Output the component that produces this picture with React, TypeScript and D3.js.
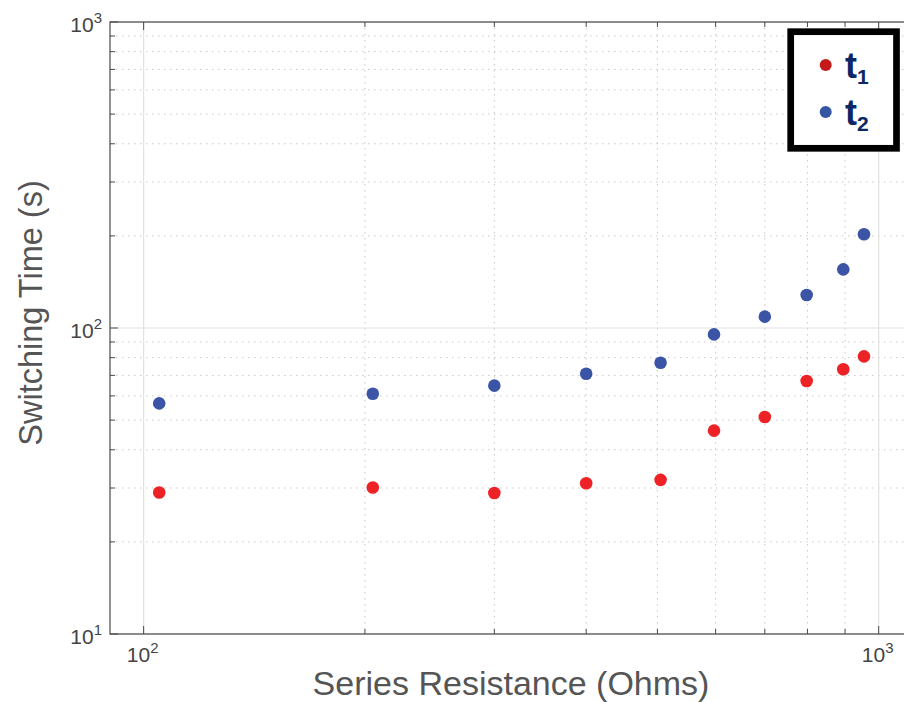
import React, { useEffect, useRef } from 'react';
import * as d3 from 'd3';

// series resistance (ohms) and switching times (s)
const resistance = [105, 205, 300, 400, 505, 597, 700, 798, 895, 955];
const t1Values = [29.0, 30.1, 28.9, 31.1, 31.9, 46.2, 51.2, 67.1, 73.3, 80.8];
const t2Values = [56.7, 61.0, 64.8, 70.9, 77.0, 95.3, 108.9, 128.2, 155.5, 202.5];

const xMajor = [100, 1000];
const yMajor = [10, 100, 1000];
const seriesNames = ['1', '2'];

const W = 904;
const H = 702;
const margin = { left: 110, right: 912, top: 22, bottom: 634 };

const font = '"Liberation Sans", Arial, Helvetica, sans-serif';

function minorTicks(lo: number, hi: number) {
    let out: number[] = [];
    for (let d = lo; d < hi; d *= 10) {
        for (let k = 2; k <= 9; k++) out.push(d * k);
    }
    return out;
}

export default function App() {
    const svgRef = useRef<SVGSVGElement>(null);

    useEffect(() => {
        const svg = d3.select(svgRef.current);
        svg.selectAll('*').remove();

        const x = d3.scaleLog().domain([90, 1110]).range([margin.left, margin.right]);
        const y = d3.scaleLog().domain([10, 1000]).range([margin.bottom, margin.top]);

        const xMinor = minorTicks(100, 1000);
        const yMinor = minorTicks(10, 1000);

        const g = svg.append('g');

        // background
        g.append('rect')
            .attr('x', margin.left).attr('y', margin.top)
            .attr('width', margin.right - margin.left)
            .attr('height', margin.bottom - margin.top)
            .attr('fill', '#fff');

        // minor grid (dotted)
        g.selectAll('.xminor').data(xMinor).enter().append('line')
            .attr('x1', d => x(d)).attr('x2', d => x(d))
            .attr('y1', margin.top).attr('y2', margin.bottom)
            .attr('stroke', '#c8c8c8').attr('stroke-width', 1)
            .attr('stroke-dasharray', '1.5,4.5');
        g.selectAll('.yminor').data(yMinor).enter().append('line')
            .attr('y1', d => y(d)).attr('y2', d => y(d))
            .attr('x1', margin.left).attr('x2', margin.right)
            .attr('stroke', '#c8c8c8').attr('stroke-width', 1)
            .attr('stroke-dasharray', '1.5,4.5');

        // major grid (solid, light)
        g.selectAll('.xmajor').data(xMajor).enter().append('line')
            .attr('x1', d => x(d)).attr('x2', d => x(d))
            .attr('y1', margin.top).attr('y2', margin.bottom)
            .attr('stroke', '#e2e2e2').attr('stroke-width', 1.2);
        g.selectAll('.ymajor').data(yMajor).enter().append('line')
            .attr('y1', d => y(d)).attr('y2', d => y(d))
            .attr('x1', margin.left).attr('x2', margin.right)
            .attr('stroke', '#e2e2e2').attr('stroke-width', 1.2);

        // ticks on all four sides, pointing inward
        const axisColor = '#4a4a4a';
        const addXTicks = (vals: number[], len: number) => {
            [margin.bottom, margin.top].forEach((yy, i) => {
                g.selectAll(null).data(vals).enter().append('line')
                    .attr('x1', d => x(d)).attr('x2', d => x(d))
                    .attr('y1', yy).attr('y2', i === 0 ? yy - len : yy + len)
                    .attr('stroke', axisColor).attr('stroke-width', 1);
            });
        };
        const addYTicks = (vals: number[], len: number) => {
            [margin.left, margin.right].forEach((xx, i) => {
                g.selectAll(null).data(vals).enter().append('line')
                    .attr('y1', d => y(d)).attr('y2', d => y(d))
                    .attr('x1', xx).attr('x2', i === 0 ? xx + len : xx - len)
                    .attr('stroke', axisColor).attr('stroke-width', 1);
            });
        };
        addXTicks(xMinor, 5);
        addXTicks(xMajor, 8);
        addYTicks(yMinor, 5);
        addYTicks(yMajor, 8);

        // box
        g.append('rect')
            .attr('x', margin.left).attr('y', margin.top)
            .attr('width', margin.right - margin.left)
            .attr('height', margin.bottom - margin.top)
            .attr('fill', 'none').attr('stroke', axisColor).attr('stroke-width', 1.2);

        // tick labels
        const tickColor = '#444';
        xMajor.forEach(v => {
            const t = g.append('text')
                .attr('x', x(v) - 1).attr('y', 662)
                .attr('text-anchor', 'middle')
                .attr('font-family', font).attr('font-size', 21)
                .attr('fill', tickColor)
                .text('10');
            t.append('tspan').attr('dy', -9).attr('font-size', 15).text(String(Math.round(Math.log10(v))));
        });
        yMajor.forEach(v => {
            const t = g.append('text')
                .attr('x', 102).attr('y', y(v) + 10)
                .attr('text-anchor', 'end')
                .attr('font-family', font).attr('font-size', 21)
                .attr('fill', tickColor)
                .text('10');
            t.append('tspan').attr('dy', -9).attr('font-size', 15).text(String(Math.round(Math.log10(v))));
        });

        // axis titles
        g.append('text')
            .attr('x', (margin.left + margin.right) / 2).attr('y', 695)
            .attr('text-anchor', 'middle')
            .attr('font-family', font).attr('font-size', 34)
            .attr('fill', '#555')
            .text('Series Resistance (Ohms)');
        g.append('text')
            .attr('transform', 'translate(42,313) rotate(-90)')
            .attr('text-anchor', 'middle')
            .attr('font-family', font).attr('font-size', 32.5)
            .attr('fill', '#555')
            .text('Switching Time (s)');

        // points
        const colours = ['#ec2227', '#3b54a5'];
        [t1Values, t2Values].forEach((vals, i) => {
            g.selectAll(null).data(vals).enter().append('circle')
                .attr('cx', (d, j) => x(resistance[j]))
                .attr('cy', d => y(d))
                .attr('r', 6.3)
                .attr('fill', colours[i]);
        });

        // legend
        const lg = g.append('g');
        lg.append('rect')
            .attr('x', 790.7).attr('y', 31.7)
            .attr('width', 105.8).attr('height', 116.6)
            .attr('fill', '#fff').attr('stroke', '#000').attr('stroke-width', 6.7);
        const legendDot = ['#c41a1a', '#3556a2'];
        seriesNames.forEach((name, i) => {
            const base = i === 0 ? 78 : 125;
            lg.append('circle')
                .attr('cx', 825.7).attr('cy', base - 13)
                .attr('r', 6).attr('fill', legendDot[i]);
            const t = lg.append('text')
                .attr('x', 845).attr('y', base)
                .attr('font-family', font).attr('font-size', 36)
                .attr('font-weight', 'bold')
                .attr('fill', '#0c2766')
                .text('t');
            t.append('tspan').attr('dy', 6).attr('font-size', 21).text(name);
        });
    }, []);

    return (
        <svg
            ref={svgRef}
            width={W}
            height={H}
            style={{ position: 'absolute', left: 0, top: 0, display: 'block', background: '#fff' }}
        />
    );
}
